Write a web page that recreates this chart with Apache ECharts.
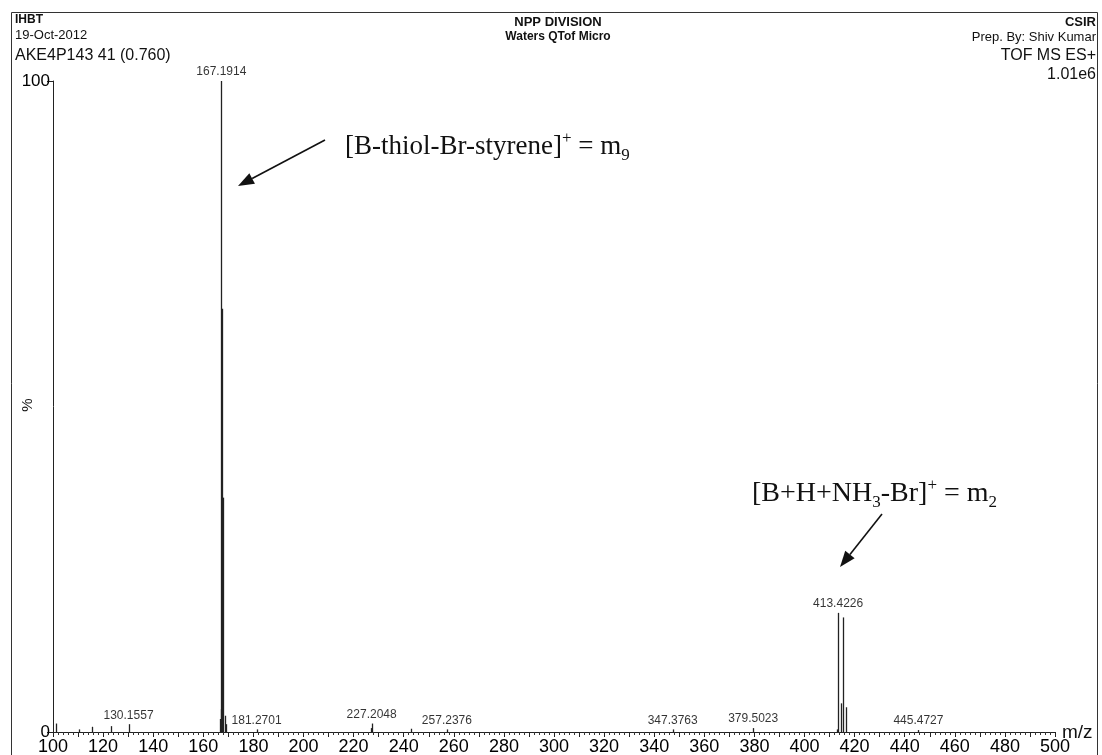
<!DOCTYPE html>
<html><head><meta charset="utf-8">
<script src="https://cdn.jsdelivr.net/npm/echarts@6/dist/echarts.min.js"></script>
<style>html,body{margin:0;padding:0;background:#fff;}#c{width:1102px;height:755px;}</style>
</head><body><div id="c"></div>
<script>
// Labelled peaks (m/z, relative intensity %)
const labeledMz = [130.1557, 167.1914, 181.2701, 227.2048, 257.2376, 347.3763, 379.5023, 413.4226, 445.4727];
const labeledIntensity = [1.2, 100, 0.4, 1.3, 0.4, 0.4, 0.6, 18.3, 0.3];
// Unlabelled peaks
const otherMz = [101.0, 110.2, 115.5, 123.2, 166.5, 166.9, 167.6, 167.9, 168.5, 169.0, 226.8, 243.0, 412.8, 414.4, 415.42, 416.4];
const otherIntensity = [1.3, 0.4, 0.8, 0.9, 2.0, 3.5, 65, 36, 2.5, 1.2, 0.6, 0.5, 0.4, 4.4, 17.6, 3.8];
const xMin = 100, xMax = 500, xStep = 10;
const yMin = 0, yMax = 100;

const allPeaks = labeledMz.map((m, i) => [m, labeledIntensity[i]])
  .concat(otherMz.map((m, i) => [m, otherIntensity[i]]));
const labelTexts = labeledMz.map(v => v.toFixed(4));

const chart = echarts.init(document.getElementById('c'), null, {renderer: 'canvas'});

function arrow(x1, y1, x2, y2) {
  const dx = x2 - x1, dy = y2 - y1, L = Math.sqrt(dx*dx + dy*dy);
  const ux = dx / L, uy = dy / L, hl = 16, hw = 6;
  const bx = x2 - ux * hl, by = y2 - uy * hl;
  return [
    {type: 'line', shape: {x1: x1, y1: y1, x2: bx, y2: by}, style: {stroke: '#111', lineWidth: 1.6}},
    {type: 'polygon', shape: {points: [[x2, y2], [bx - uy * hw, by + ux * hw], [bx + uy * hw, by - ux * hw]]}, style: {fill: '#111'}}
  ];
}

const sans = 'Liberation Sans, Arial, sans-serif';
const serif = 'Liberation Serif, Times New Roman, serif';

const option = {
  backgroundColor: '#fff',
  animation: false,
  grid: {left: 53, right: 47, top: 81, bottom: 23, containLabel: false, outerBoundsMode: 'none'},
  xAxis: {
    type: 'value', min: xMin, max: xMax, interval: xStep,
    axisLine: {lineStyle: {color: '#222', width: 1}},
    axisTick: {length: 5, lineStyle: {color: '#222'}},
    minorTick: {show: true, splitNumber: 5, length: 3, lineStyle: {color: '#333'}},
    splitLine: {show: false},
    axisLabel: {fontFamily: sans, fontSize: 18, color: '#000', margin: 6,
      formatter: v => (v % 20 === 0 ? String(v) : '')}
  },
  yAxis: {
    type: 'value', min: yMin, max: yMax, interval: 100,
    axisLine: {show: true, lineStyle: {color: '#222', width: 1}},
    axisTick: {show: true, length: 6, lineStyle: {color: '#222'}},
    splitLine: {show: false},
    axisLabel: {fontFamily: sans, fontSize: 17, color: '#000', margin: 3}
  },
  series: [
    {
      type: 'custom',
      data: allPeaks,
      renderItem: function (params, api) {
        const x = api.value(0), y = api.value(1);
        const p0 = api.coord([x, 0]), p1 = api.coord([x, y]);
        const px = Math.round(p0[0]) + 0.5;
        return {type: 'line', shape: {x1: px, y1: p0[1], x2: px, y2: p1[1]},
          style: {stroke: '#222', lineWidth: 1.3}};
      },
      z: 2
    },
    {
      type: 'scatter',
      data: labeledMz.map((m, i) => [m, labeledIntensity[i]]),
      symbolSize: 0,
      label: {
        show: true, position: 'top', distance: 3,
        fontFamily: sans, fontSize: 12, color: '#000',
        formatter: p => labelTexts[p.dataIndex]
      },
      z: 3
    }
  ],
  graphic: [
    // frame
    {type: 'line', shape: {x1: 11.5, y1: 12.5, x2: 1097.5, y2: 12.5}, style: {stroke: '#333', lineWidth: 1}},
    {type: 'line', shape: {x1: 11.5, y1: 12.5, x2: 11.5, y2: 755}, style: {stroke: '#333', lineWidth: 1}},
    {type: 'line', shape: {x1: 1097.5, y1: 12.5, x2: 1097.5, y2: 755}, style: {stroke: '#333', lineWidth: 1}},
    // axis names
    {type: 'text', x: 1062, y: 733, style: {text: 'm/z', font: '19px ' + sans, fill: '#111', textVerticalAlign: 'middle'}},
    {type: 'text', x: 28, y: 405, rotation: Math.PI / 2, style: {text: '%', font: '15px ' + sans, fill: '#111', textAlign: 'center', textVerticalAlign: 'middle'}},
    // header left
    {type: 'text', left: 15, top: 14, style: {text: 'IHBT', font: 'bold 12px ' + sans, fill: '#111'}},
    {type: 'text', left: 15, top: 29, style: {text: '19-Oct-2012', font: '13px ' + sans, fill: '#111'}},
    {type: 'text', left: 15, top: 48, style: {text: 'AKE4P143 41 (0.760)', font: '16px ' + sans, fill: '#111'}},
    // header centre
    {type: 'text', x: 558, y: 22, style: {text: 'NPP DIVISION', font: 'bold 13px ' + sans, fill: '#111', textAlign: 'center', textVerticalAlign: 'middle'}},
    {type: 'text', x: 558, y: 37, style: {text: 'Waters QTof Micro', font: 'bold 12px ' + sans, fill: '#111', textAlign: 'center', textVerticalAlign: 'middle'}},
    // header right
    {type: 'text', x: 1096, y: 22, style: {text: 'CSIR', font: 'bold 13px ' + sans, fill: '#111', textAlign: 'right', textVerticalAlign: 'middle'}},
    {type: 'text', x: 1096, y: 37, style: {text: 'Prep. By: Shiv Kumar', font: '13px ' + sans, fill: '#111', textAlign: 'right', textVerticalAlign: 'middle'}},
    {type: 'text', x: 1096, y: 56, style: {text: 'TOF MS ES+', font: '16px ' + sans, fill: '#111', textAlign: 'right', textVerticalAlign: 'middle'}},
    {type: 'text', x: 1096, y: 75, style: {text: '1.01e6', font: '16px ' + sans, fill: '#111', textAlign: 'right', textVerticalAlign: 'middle'}},
    // annotations
    {type: 'text', x: 345, y: 147, style: {
      text: '[B-thiol-Br-styrene]{sup|+} = m{sub|9}',
      fontFamily: serif, fontSize: 27, fill: '#111', textVerticalAlign: 'middle', lineHeight: 34,
      rich: {sup: {fontFamily: serif, fontSize: 17, verticalAlign: 'top', lineHeight: 34},
             sub: {fontFamily: serif, fontSize: 17, verticalAlign: 'bottom', lineHeight: 34}}
    }},
    {type: 'text', x: 752, y: 494, style: {
      text: '[B+H+NH{sub|3}-Br]{sup|+} = m{sub|2}',
      fontFamily: serif, fontSize: 28, fill: '#111', textVerticalAlign: 'middle', lineHeight: 34,
      rich: {sup: {fontFamily: serif, fontSize: 17, verticalAlign: 'top', lineHeight: 34},
             sub: {fontFamily: serif, fontSize: 17, verticalAlign: 'bottom', lineHeight: 34}}
    }}
  ].concat(arrow(325, 140, 238, 186)).concat(arrow(882, 514, 840, 567))
};
chart.setOption(option);
</script>
</body></html>
